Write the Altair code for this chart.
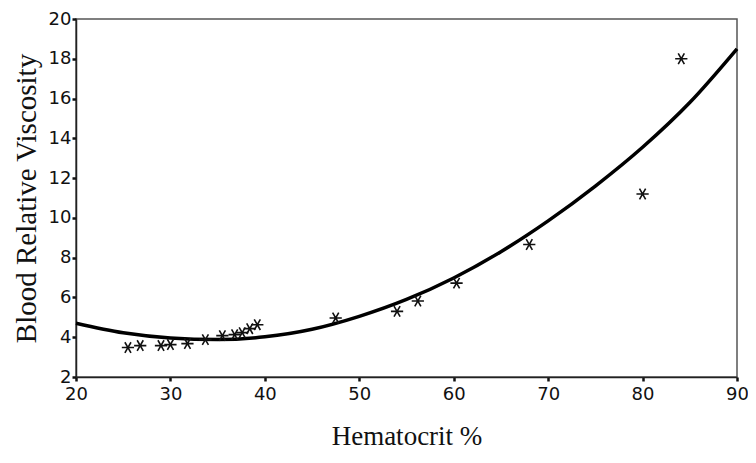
import altair as alt
import pandas as pd

# Observed data (asterisks)
hct = [25.5, 26.8, 29.0, 30.0, 31.8, 33.7, 35.5, 36.8, 37.6, 38.4, 39.2,
       47.5, 54.0, 56.2, 60.3, 68.0, 80.0, 84.1]
visc = [3.48, 3.58, 3.58, 3.63, 3.68, 3.88, 4.08, 4.13, 4.23, 4.43, 4.63,
        4.97, 5.3, 5.82, 6.72, 8.66, 11.2, 18.0]

# Fitted curve
curve_x = [20, 25, 30, 35, 40, 45, 50, 55, 60, 65, 70, 75, 80, 85, 90]
curve_y = [4.7, 4.22, 3.96, 3.88, 4.02, 4.4, 5.05, 5.9, 6.98, 8.3, 9.85, 11.6, 13.55, 15.8, 18.5]

x_ticks = [20, 30, 40, 50, 60, 70, 80, 90]
y_ticks = [2, 4, 6, 8, 10, 12, 14, 16, 18, 20]

pts = pd.DataFrame({"h": hct, "v": visc})
fit = pd.DataFrame({"h": curve_x, "v": curve_y})

xs = alt.Scale(domain=[20, 90], nice=False, zero=False)
ys = alt.Scale(domain=[2, 20], nice=False, zero=False)

common = dict(grid=False, domainColor="#222", domainWidth=1.5, tickColor="#111",
              tickSize=4, tickWidth=2.5, labelFont="DejaVu Sans", labelFontSize=18,
              labelColor="#111", labelFlush=False, labelOverlap=False, tickCount=30,
              format="d",
              titleFont="Liberation Serif", titleFontWeight="normal", titleColor="#111")

xaxis = alt.Axis(values=x_ticks, title="Hematocrit %",
                 labelPadding=4, titleFontSize=27, titlePadding=20, **common)
yaxis = alt.Axis(values=y_ticks, title="Blood Relative Viscosity",
                 labelPadding=1, titleFontSize=29, titlePadding=7, **common)

line = alt.Chart(fit).mark_line(color="black", strokeWidth=3.5, interpolate="monotone").encode(
    x=alt.X("h:Q", scale=xs, axis=xaxis),
    y=alt.Y("v:Q", scale=ys, axis=yaxis),
)

star = "M-1,0L1,0M-0.5,-0.87L0.5,0.87M-0.5,0.87L0.5,-0.87"
points = alt.Chart(pts).mark_point(shape=star, size=150, filled=False, stroke="#111",
                                   strokeWidth=1.6, opacity=1).encode(
    x=alt.X("h:Q", scale=xs),
    y=alt.Y("v:Q", scale=ys),
)

chart = alt.layer(line, points).properties(
    width=661, height=358,
    autosize=alt.AutoSizeParams(type="none"),
    padding={"left": 68, "top": 11, "right": 11, "bottom": 76},
    background="white",
).configure_view(stroke="#555", strokeWidth=1.5)

chart.save("out.html", embed_options={"renderer": "svg", "actions": False})
